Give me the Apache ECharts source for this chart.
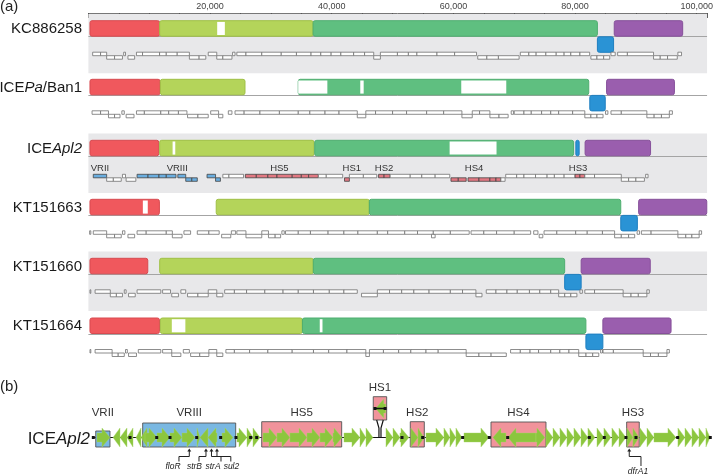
<!DOCTYPE html>
<html><head><meta charset="utf-8">
<script src="https://cdn.jsdelivr.net/npm/echarts@6/dist/echarts.min.js"></script>
<style>html,body{margin:0;padding:0;background:#fff}#c{width:716px;height:476px}</style>
</head><body><div id="c"></div>
<script>
// ================= DATA : panel (a) =================
const trackNames = ['KC886258', 'ICEPa/Ban1', 'ICEApl2', 'KT151663', 'KT151660', 'KT151664'];
const xMaxKb = 101.7;                 // axis extent (kb)
const tickStepKb = 5;                 // minor ticks
const labelStepKb = 20;               // labelled ticks: 20,000 ... 100,000

// LCB blocks: [start kb, end kb, colour (0 red,1 lime,2 green,3 blue,4 purple), inverted]
const blocksKC886258 = [[0.26,11.72,0,0],[11.72,36.94,1,0],[36.94,83.67,2,0],[83.67,86.33,3,1],[86.44,97.69,4,0]];
const blocksICEPaBan1 = [[0.26,11.79,0,0],[11.83,25.74,1,0],[34.49,82.25,2,0],[82.42,84.96,3,1],[85.18,96.33,4,0]];
const blocksICEApl2 = [[0.26,11.56,0,0],[11.72,37.10,1,0],[37.21,79.76,2,0],[80.13,80.67,3,0],[81.65,92.41,4,0]];
const blocksKT151663 = [[0.26,11.67,0,0],[21.01,46.18,1,0],[46.18,87.51,2,0],[87.51,90.24,3,1],[90.45,101.65,4,0]];
const blocksKT151660 = [[0.26,9.76,0,0],[11.72,36.97,1,0],[36.97,78.29,2,0],[78.29,81.00,3,1],[81.00,92.36,4,0]];
const blocksKT151664 = [[0.26,11.68,0,0],[11.83,35.18,1,0],[35.18,81.78,2,0],[81.78,84.57,3,1],[84.57,95.78,4,0]];

// unaligned (white) stretches inside blocks: [start kb, end kb]
const gapsKC886258 = [[21.17,22.43]];
const gapsICEPaBan1 = [[34.49,39.28],[44.69,45.25],[61.29,68.69]];
const gapsICEApl2 = [[13.84,14.28],[59.38,67.09]];
const gapsKT151663 = [[8.95,9.76]];
const gapsKT151660 = [];
const gapsKT151664 = [[13.71,15.94],[38.03,38.48]];

// genes: [start kb, end kb, strand]
const genesKC886258 = [[0.7,2.0,1],[2.0,3.0,1],[3.0,4.3,-1],[4.3,5.6,-1],[5.8,6.1,1],[6.5,7.6,-1],[7.9,8.9,1],[8.9,11.7,1],[11.7,12.8,1],[12.8,14.6,1],[14.6,16.6,1],[16.6,18.2,-1],[18.2,19.3,-1],[19.7,21.1,1],[21.1,22.1,-1],[22.1,23.6,-1],[23.7,24.1,1],[24.4,25.9,1],[25.9,28.5,1],[28.5,31.7,1],[31.7,34.2,1],[34.2,36.6,1],[36.6,38.2,1],[38.2,39.9,1],[39.9,41.5,1],[41.5,43.6,1],[43.6,45.4,1],[45.4,46.9,1],[46.9,48.0,-1],[48.0,50.8,1],[50.8,52.6,1],[52.6,54.0,1],[54.0,57.3,1],[57.3,60.2,1],[60.2,63.8,1],[64.0,65.5,-1],[65.5,67.4,-1],[67.4,70.8,-1],[71.0,72.4,1],[72.4,73.6,1],[73.6,75.2,1],[75.2,76.9,1],[76.9,78.2,1],[78.2,79.3,1],[79.3,80.8,1],[80.8,82.4,1],[82.6,83.6,-1],[83.6,84.7,-1],[84.7,85.7,-1],[85.9,86.6,1],[87.0,88.6,1],[88.6,92.9,1],[92.9,94.0,-1],[94.0,95.2,-1],[95.2,96.8,-1],[96.9,97.5,1]];
const genesICEPaBan1 = [[0.6,2.0,1],[2.0,3.3,1],[3.3,4.3,-1],[4.3,5.2,-1],[5.5,5.9,1],[6.2,7.5,-1],[7.9,9.2,1],[9.2,11.9,1],[11.9,13.2,1],[13.2,14.8,1],[14.8,16.2,1],[16.3,18.0,-1],[18.0,19.7,-1],[20.1,21.4,1],[21.4,22.1,-1],[23.0,23.6,1],[24.1,25.6,1],[25.6,28.2,1],[28.2,31.4,1],[31.4,34.5,1],[34.5,36.4,1],[36.4,38.9,1],[38.9,41.2,1],[41.2,44.2,1],[44.2,45.6,-1],[45.6,47.2,1],[47.2,50.0,1],[50.0,52.3,1],[52.3,55.6,1],[55.6,58.4,1],[58.4,61.4,1],[61.4,63.1,-1],[63.1,64.3,1],[64.3,66.0,1],[66.0,67.5,-1],[67.5,69.0,-1],[69.5,69.9,1],[70.0,71.6,1],[71.6,72.8,1],[72.8,74.5,1],[74.5,76.0,1],[76.0,77.3,1],[77.3,79.6,1],[79.6,81.6,1],[81.6,82.6,-1],[82.6,83.6,-1],[83.6,84.6,-1],[85.0,85.4,1],[85.9,87.6,1],[87.6,91.8,1],[91.8,93.0,-1],[93.0,94.2,-1],[94.2,95.5,-1],[95.5,96.0,1]];
// ICEApl2 genes carry a region colour: 0 none, 1 VR (blue), 2 HS (red)
const genesICEApl2 = [[0.8,3.0,1,1],[3.0,4.1,-1,0],[4.1,5.4,-1,0],[5.6,6.1,1,0],[6.2,7.8,-1,0],[8.0,9.8,1,1],[9.8,11.6,1,1],[11.6,12.8,1,1],[12.8,14.4,1,1],[14.7,16.0,1,1],[16.0,17.0,-1,1],[17.0,17.9,-1,1],[19.5,20.9,1,1],[20.9,21.7,-1,1],[22.1,23.1,1,0],[23.1,25.5,1,0],[25.8,27.6,1,2],[27.6,29.5,1,2],[29.5,31.0,1,2],[31.0,33.5,1,2],[33.5,35.0,1,2],[35.0,36.2,1,2],[36.2,37.8,1,2],[37.8,39.1,1,0],[39.1,41.8,1,0],[42.1,42.9,-1,2],[42.9,45.2,1,0],[45.2,47.4,1,0],[47.7,48.6,1,2],[48.6,49.6,1,2],[49.6,52.9,1,0],[52.9,54.8,1,0],[54.8,57.0,1,0],[57.0,59.4,1,0],[59.6,60.8,-1,2],[60.8,62.1,-1,2],[62.4,64.2,-1,2],[64.2,66.0,-1,2],[66.0,67.0,-1,2],[67.0,67.8,-1,2],[67.8,68.5,-1,0],[68.6,70.4,1,0],[70.4,71.6,1,0],[71.6,73.5,1,0],[73.5,75.4,1,0],[75.4,76.6,1,0],[76.6,78.2,1,0],[78.2,80.0,1,0],[80.0,80.8,1,2],[80.8,81.6,1,2],[81.6,83.2,1,0],[83.2,87.6,1,0],[87.6,88.8,-1,0],[88.8,90.0,-1,0],[90.0,91.4,-1,0],[91.6,92.0,1,0]];
const genesKT151663 = [[0.2,0.4,1],[0.8,3.0,1],[3.0,4.3,-1],[4.3,5.4,-1],[5.6,6.0,1],[6.5,7.6,-1],[8.0,9.5,1],[9.5,12.8,1],[12.8,13.8,1],[13.8,15.4,-1],[15.7,16.8,1],[17.9,19.8,1],[19.8,21.5,1],[21.9,23.4,-1],[23.5,24.2,1],[24.4,25.9,1],[25.9,28.5,-1],[28.5,29.6,1],[29.6,30.7,-1],[30.7,31.6,-1],[31.8,32.2,1],[32.4,34.5,1],[34.5,36.5,1],[36.5,39.4,1],[39.4,42.0,1],[42.0,44.3,1],[44.3,47.5,1],[47.5,49.2,1],[49.2,52.0,1],[52.0,54.1,1],[54.1,56.7,1],[56.4,57.0,-1],[56.7,59.5,1],[59.5,62.6,1],[62.9,65.0,1],[65.0,67.1,1],[67.1,70.0,1],[70.0,72.7,1],[73.2,73.9,1],[74.1,74.7,-1],[74.9,77.0,1],[77.0,80.1,1],[80.1,82.0,1],[82.0,84.5,1],[84.5,86.5,1],[86.5,87.6,-1],[87.6,88.8,-1],[88.8,89.8,-1],[90.2,90.6,1],[90.9,92.5,1],[92.5,96.9,1],[96.9,98.2,-1],[98.2,99.2,-1],[99.2,100.4,-1],[100.4,100.8,1]];
const genesKT151660 = [[0.26,0.4,1],[1.1,3.6,1],[3.6,4.6,-1],[4.6,5.6,-1],[5.9,6.2,1],[6.6,7.7,-1],[8.0,11.9,1],[12.2,13.5,1],[13.7,14.8,-1],[15.2,16.0,1],[16.3,18.0,-1],[18.0,19.7,-1],[19.7,21.1,1],[21.1,22.1,-1],[22.4,24.0,1],[24.0,26.0,1],[26.0,29.0,1],[29.0,32.0,1],[32.0,34.5,1],[34.5,37.0,1],[37.0,39.6,1],[39.6,42.0,1],[42.0,44.2,1],[44.9,47.5,-1],[47.5,49.5,1],[49.5,51.5,1],[51.5,53.5,1],[53.5,56.0,1],[56.0,59.5,1],[59.5,61.5,1],[61.5,63.7,1],[63.7,64.7,-1],[65.4,67.0,1],[67.0,68.8,1],[68.8,70.5,1],[70.5,72.5,1],[72.5,74.2,1],[74.2,76.0,1],[76.0,77.3,1],[77.3,78.3,-1],[78.3,79.3,-1],[79.3,80.3,-1],[80.8,81.2,1],[81.6,83.2,1],[83.2,87.9,1],[87.9,89.2,-1],[89.2,90.4,-1],[90.4,91.8,-1],[91.8,92.2,1]];
const genesKT151664 = [[0.26,0.4,1],[1.1,3.9,1],[3.9,4.9,-1],[4.9,5.9,-1],[6.1,6.4,1],[6.6,7.9,-1],[8.2,11.9,1],[12.2,13.7,1],[13.7,15.2,-1],[15.6,16.6,1],[16.8,18.3,-1],[18.3,19.8,-1],[19.8,21.1,1],[21.1,22.1,-1],[22.6,24.0,1],[24.0,26.5,1],[26.5,29.5,1],[29.5,33.5,1],[33.5,37.0,1],[37.0,39.5,1],[39.5,42.5,1],[42.5,45.6,1],[45.6,46.2,-1],[46.2,48.5,1],[48.5,51.0,1],[51.0,53.0,1],[53.0,55.5,1],[55.5,57.5,1],[57.5,62.1,1],[62.1,64.2,-1],[64.2,66.2,-1],[66.2,68.7,-1],[69.4,71.0,1],[71.0,72.6,1],[72.6,74.0,1],[74.0,76.0,1],[76.0,77.5,1],[77.5,79.0,1],[79.0,80.6,1],[80.6,81.8,-1],[81.8,82.9,-1],[82.9,83.9,-1],[84.2,84.5,1],[84.6,86.3,1],[86.3,91.2,1],[91.2,92.4,-1],[92.4,93.7,-1],[93.7,95.1,-1],[95.1,95.5,1]];

// region labels on the ICEApl2 track: [name, centre kb]
const regionLabelsICEApl2 = [['VRII',1.9],['VRIII',14.6],['HS5',31.4],['HS1',43.3],['HS2',48.6],['HS4',63.4],['HS3',80.5]];

// ================= DATA : panel (b) (relative map units 0-100) =================
const arrowsB = [[0.65,2.75,1],[3.24,4.37,-1],[4.37,5.50,-1],[5.50,6.47,-1],[6.96,7.77,-1],[7.77,8.74,-1],
 [8.41,10.36,1],[10.36,12.46,1],[12.46,14.40,1],[14.40,16.50,1],[16.83,17.31,1],[17.31,18.61,-1],[18.61,20.06,-1],[20.87,22.65,1],
 [23.30,24.92,1],[24.92,25.89,1],[25.89,27.02,1],
 [27.51,29.77,1],[29.77,31.87,1],[31.87,34.63,1],[34.63,36.73,1],[36.73,38.83,1],[38.83,40.29,1],[40.61,43.20,1],
 [43.20,44.17,1],[44.17,45.30,1],[47.41,48.54,1],[48.54,49.67,1],[49.67,51.13,1],
 [51.45,52.59,1],[52.59,53.56,1],[53.88,56.79,1],[56.79,57.76,1],[57.76,58.73,1],[58.73,59.70,1],[60.03,64.07,1],
 [64.72,66.82,-1],[67.15,71.68,-1],[71.68,73.13,1],
 [73.30,74.43,1],[74.43,75.56,1],[75.56,76.69,1],[76.69,77.82,1],[77.82,78.96,1],[78.96,80.09,1],[80.09,81.22,1],
 [81.55,82.68,1],[82.68,83.81,1],[83.97,85.11,1],[85.11,86.24,1],[86.40,87.37,1],[87.37,88.34,1],
 [88.50,89.64,1],[89.64,90.77,1],[90.77,94.33,1],[94.65,95.79,1],[95.79,96.92,1],[96.92,98.05,1],[98.05,99.18,1],[99.18,99.84,1]];
const hs1ArrowB = [[45.75,47.35,-1]];
const regionBoxesB = [['VRII',0.44,2.75,1],['VRIII',8.04,23.09,1],['HS5',27.30,40.24,2],['HS1',45.35,47.52,2],['HS2',51.34,53.61,2],['HS4',64.40,73.30,2],['HS3',86.35,88.39,2]];
const dotsB = [0.05,5.99,10.31,12.46,16.78,20.66,23.14,25.52,26.49,50.0,53.35,59.82,64.12,67.10,80.30,82.73,86.24,87.86,94.61,99.88];
const hs1LinkB = [[45.90,46.27],[46.97,46.60]];
// resistance genes: [name, gene position, elbow position, label position]
const resGenesB = [['floR',15.58,13.91,12.94],['strB',18.28,17.15,16.42],['strA',19.17,20.71,19.42],['sul2',20.06,22.30,22.40],['dfrA1',86.77,88.67,88.18]];

// ================= STYLE / LAYOUT =================
const FONT = '"Liberation Sans", Arial, Helvetica, sans-serif';
const BLOCK_TOP = [20.7, 79.3, 140.3, 199.3, 258.3, 318];
const BLOCK_H = 15.5;
const GENE_OFF = [19.5, 19.5, 22, 19.5, 19.5, 19.5];
const BAND_TRACKS = [0, 2, 4];
const BLOCK_FILL = ['#f0585d', '#b4d45a', '#5fbf80', '#2a93d5', '#9a5eae'];
const BLOCK_STROKE = ['#d84a50', '#9fc045', '#4fae70', '#1f7fc0', '#86509a'];
const GENE_FILL = ['#ffffff', '#6aaee0', '#e27882'];
const BOX_FILL = ['', '#7ab8e2', '#f1939b'];
const ARROW = '#8cc63e';
const LINE_B = 437.5;
const BOX_TOP_B = {VRII: 431, VRIII: 423, HS5: 421.7, HS1: 396.7, HS2: 421.7, HS4: 422, HS3: 422};
const BOX_BOT_B = {HS1: 420};
const BOX_LABEL_Y = {HS1: 388};

// ================= build series data =================
const allBlocks = [blocksKC886258, blocksICEPaBan1, blocksICEApl2, blocksKT151663, blocksKT151660, blocksKT151664];
const allGaps = [gapsKC886258, gapsICEPaBan1, gapsICEApl2, gapsKT151663, gapsKT151660, gapsKT151664];
const allGenes = [genesKC886258, genesICEPaBan1, genesICEApl2, genesKT151663, genesKT151660, genesKT151664];
const blockData = [], gapData = [], geneData = [];
allBlocks.forEach((arr, t) => arr.forEach(b => blockData.push([b[0], b[1], t, b[2], b[3]])));
allGaps.forEach((arr, t) => arr.forEach(g => gapData.push([g[0], g[1], t])));
allGenes.forEach((arr, t) => arr.forEach(g => geneData.push([g[0], g[1], t, g[2], g[3] || 0])));

function fmt(v) { return String(Math.round(v)).replace(/\B(?=(\d{3})+(?!\d))/g, ','); }

function rectFrom(api, x0, x1, y0, y1) {
  const a = api.coord([x0, y0]), b = api.coord([x1, y1]);
  return {x: a[0], y: a[1], width: b[0] - a[0], height: b[1] - a[1]};
}

const common = {type: 'custom', silent: true, animation: false, clip: false};

const series = [
  // grey bands
  Object.assign({}, common, {xAxisIndex: 0, yAxisIndex: 0, data: BAND_TRACKS.map(t => [0, xMaxKb, t]),
    renderItem(p, api) {
      const t = api.value(2), top = BLOCK_TOP[t] - 6.7;
      return {type: 'rect', shape: rectFrom(api, api.value(0), api.value(1), top, top + 59.3), style: {fill: '#e8e8ea'}};
    }}),
  // centre lines
  Object.assign({}, common, {xAxisIndex: 0, yAxisIndex: 0, data: trackNames.map((n, t) => [0, xMaxKb, t]),
    renderItem(p, api) {
      const y = BLOCK_TOP[api.value(2)] + BLOCK_H;
      const a = api.coord([api.value(0), y]), b = api.coord([api.value(1), y]);
      return {type: 'line', shape: {x1: a[0], y1: Math.round(a[1]) + 0.5, x2: b[0], y2: Math.round(a[1]) + 0.5}, style: {stroke: '#a4a4a4', lineWidth: 1}};
    }}),
  // blocks
  Object.assign({}, common, {xAxisIndex: 0, yAxisIndex: 0, data: blockData,
    renderItem(p, api) {
      const t = api.value(2), c = api.value(3), inv = api.value(4);
      const top = BLOCK_TOP[t] + (inv ? BLOCK_H + 0.6 : 0);
      const r = rectFrom(api, api.value(0), api.value(1), top, top + BLOCK_H);
      r.r = 2;
      return {type: 'rect', shape: r, style: {fill: BLOCK_FILL[c], stroke: BLOCK_STROKE[c], lineWidth: 1}};
    }}),
  // white unaligned stretches
  Object.assign({}, common, {xAxisIndex: 0, yAxisIndex: 0, data: gapData,
    renderItem(p, api) {
      const t = api.value(2);
      const r = rectFrom(api, api.value(0), api.value(1), BLOCK_TOP[t] + 1.2, BLOCK_TOP[t] + BLOCK_H - 1.2);
      return {type: 'rect', shape: r, style: {fill: '#ffffff'}};
    }}),
  // genes
  Object.assign({}, common, {xAxisIndex: 0, yAxisIndex: 0, data: geneData,
    renderItem(p, api) {
      const t = api.value(2), s = api.value(3), col = api.value(4);
      const c = BLOCK_TOP[t] + BLOCK_H + GENE_OFF[t];
      const y0 = s > 0 ? c - 3.5 : c, y1 = s > 0 ? c : c + 3.5;
      const r = rectFrom(api, api.value(0), api.value(1), y0, y1);
      return {type: 'rect', shape: r, style: {fill: GENE_FILL[col], stroke: col ? '#444' : '#707070', lineWidth: 0.8}};
    }}),
  // region labels on ICEApl2 track
  Object.assign({}, common, {xAxisIndex: 0, yAxisIndex: 0, data: regionLabelsICEApl2.map(r => [r[1], 168]),
    renderItem(p, api) {
      const a = api.coord([api.value(0), api.value(1)]);
      return {type: 'text', x: a[0], y: a[1], style: {text: regionLabelsICEApl2[p.dataIndex][0], fontSize: 9.5, fontFamily: FONT, fill: '#333', align: 'center', verticalAlign: 'middle'}};
    }}),

  // ---------- panel (b) ----------
  // backbone line
  Object.assign({}, common, {xAxisIndex: 1, yAxisIndex: 1, data: [[0, 100]],
    renderItem(p, api) {
      const a = api.coord([api.value(0), LINE_B]), b = api.coord([api.value(1), LINE_B]);
      return {type: 'line', shape: {x1: a[0], y1: a[1], x2: b[0], y2: b[1]}, style: {stroke: '#111', lineWidth: 1}};
    }}),
  // region boxes + labels
  Object.assign({}, common, {xAxisIndex: 1, yAxisIndex: 1, data: regionBoxesB.map(b => [b[1], b[2], b[3]]),
    renderItem(p, api) {
      const name = regionBoxesB[p.dataIndex][0];
      const top = BOX_TOP_B[name], bot = BOX_BOT_B[name] || 447;
      const r = rectFrom(api, api.value(0), api.value(1), top, bot);
      const cx = r.x + r.width / 2;
      return {type: 'group', children: [
        {type: 'rect', shape: r, style: {fill: BOX_FILL[api.value(2)], stroke: '#555', lineWidth: 0.9}},
        {type: 'text', x: cx, y: BOX_LABEL_Y[name] || 413, style: {text: name, fontSize: 11.5, fontFamily: FONT, fill: '#333', align: 'center', verticalAlign: 'middle'}}
      ]};
    }}),
  // HS1 link
  Object.assign({}, common, {xAxisIndex: 1, yAxisIndex: 1, data: hs1LinkB,
    renderItem(p, api) {
      const a = api.coord([api.value(0), 420]), b = api.coord([api.value(1), 428]), c = api.coord([api.value(1), LINE_B]);
      return {type: 'polyline', shape: {points: [a, b, c]}, style: {stroke: '#111', lineWidth: 1.2, fill: null}};
    }}),
  // gene arrows on backbone
  Object.assign({}, common, {xAxisIndex: 1, yAxisIndex: 1, data: arrowsB.map(a => [a[0], a[1], a[2], LINE_B]).concat(hs1ArrowB.map(a => [a[0], a[1], a[2], 408.5])),
    renderItem(p, api) {
      const a = api.coord([api.value(0), api.value(3)]), b = api.coord([api.value(1), api.value(3)]);
      const dir = api.value(2), y = a[1];
      const len = b[0] - a[0], hl = Math.min(len, 8), sh = 4.5, hh = 9.5;
      let pts;
      if (dir > 0) {
        const x0 = a[0], x1 = b[0], xh = x1 - hl;
        pts = [[x0, y - sh], [xh, y - sh], [xh, y - hh], [x1, y], [xh, y + hh], [xh, y + sh], [x0, y + sh]];
      } else {
        const x0 = a[0], x1 = b[0], xh = x0 + hl;
        pts = [[x1, y - sh], [xh, y - sh], [xh, y - hh], [x0, y], [xh, y + hh], [xh, y + sh], [x1, y + sh]];
      }
      return {type: 'polygon', shape: {points: pts}, style: {fill: ARROW, stroke: '#a7d66a', lineWidth: 0.4}};
    }}),
  // HS1 inner black bar
  Object.assign({}, common, {xAxisIndex: 1, yAxisIndex: 1, data: [[45.55, 47.35, 408.5]],
    renderItem(p, api) {
      const a = api.coord([api.value(0), api.value(2)]), b = api.coord([api.value(1), api.value(2)]);
      return {type: 'group', children: [
        {type: 'line', shape: {x1: a[0], y1: a[1], x2: b[0], y2: b[1]}, style: {stroke: '#111', lineWidth: 1.6}},
        {type: 'rect', shape: {x: a[0] - 1, y: a[1] - 1.5, width: 3, height: 3}, style: {fill: '#111'}},
        {type: 'rect', shape: {x: b[0] - 2, y: b[1] - 1.5, width: 3, height: 3}, style: {fill: '#111'}}
      ]};
    }}),
  // black intergenic dots
  Object.assign({}, common, {xAxisIndex: 1, yAxisIndex: 1, data: dotsB.map(d => [d, LINE_B]),
    renderItem(p, api) {
      const a = api.coord([api.value(0), api.value(1)]);
      return {type: 'rect', shape: {x: a[0] - 1.5, y: a[1] - 1.5, width: 3, height: 3}, style: {fill: '#111'}};
    }}),
  // resistance gene pointers
  Object.assign({}, common, {xAxisIndex: 1, yAxisIndex: 1, data: resGenesB.map(g => [g[1], g[2], g[3]]),
    renderItem(p, api) {
      const name = resGenesB[p.dataIndex][0];
      const low = name === 'dfrA1';
      const ly = low ? 471.5 : 467;
      const tgt = api.coord([api.value(0), 448.5]), elb = api.coord([api.value(1), 456.5]), lab = api.coord([api.value(2), ly]);
      const yStart = ly - 5.5;
      return {type: 'group', children: [
        {type: 'polyline', shape: {points: [[elb[0], yStart], [elb[0], elb[1]], [tgt[0], elb[1]], [tgt[0], tgt[1] + 2.5]]}, style: {stroke: '#222', lineWidth: 1, fill: null}},
        {type: 'polygon', shape: {points: [[tgt[0] - 2, tgt[1] + 3], [tgt[0] + 2, tgt[1] + 3], [tgt[0], tgt[1]]]}, style: {fill: '#222'}},
        {type: 'text', x: lab[0], y: lab[1], style: {text: name, fontSize: 8.5, fontStyle: 'italic', fontFamily: FONT, fill: '#222', align: 'center', verticalAlign: 'middle'}}
      ]};
    }})
];

const rich = {n: {fontSize: 15, fontFamily: FONT, fill: '#1a1a1a'}, i: {fontSize: 15, fontFamily: FONT, fontStyle: 'italic', fill: '#1a1a1a'},
              bn: {fontSize: 17, fontFamily: FONT, fill: '#1a1a1a'}, bi: {fontSize: 17, fontFamily: FONT, fontStyle: 'italic', fill: '#1a1a1a'}};
const nameRich = {'ICEPa/Ban1': '{n|ICE}{i|Pa}{n|/Ban1}', 'ICEApl2': '{n|ICE}{i|Apl2}'};
const graphics = trackNames.map((n, t) => ({type: 'text', x: 82, y: BLOCK_TOP[t] + 8.3, silent: true,
  style: {text: nameRich[n] || '{n|' + n + '}', rich, align: 'right', verticalAlign: 'middle'}}));
graphics.push({type: 'text', x: 0, y: 7, silent: true, style: {text: '(a)', fontSize: 15, fontFamily: FONT, fill: '#222', verticalAlign: 'middle'}});
graphics.push({type: 'text', x: 0, y: 387, silent: true, style: {text: '(b)', fontSize: 15, fontFamily: FONT, fill: '#222', verticalAlign: 'middle'}});
graphics.push({type: 'text', x: 90, y: 439, silent: true, style: {text: '{bn|ICE}{bi|Apl2}', rich, align: 'right', verticalAlign: 'middle'}});

const chart = echarts.init(document.getElementById('c'), null, {renderer: 'canvas'});
chart.setOption({
  animation: false,
  grid: [{left: 88.4, right: 3.6, top: 13, bottom: 0}, {left: 93, right: 5, top: 13, bottom: 0}],
  xAxis: [
    {type: 'value', gridIndex: 0, position: 'top', min: 0, max: xMaxKb, interval: tickStepKb,
     axisLine: {show: true, lineStyle: {color: '#777', width: 1}},
     axisTick: {show: true, inside: true, length: 5, lineStyle: {color: '#555'}},
     axisLabel: {fontSize: 9, fontFamily: FONT, color: '#444', margin: 2,
       formatter: v => (v > 0 && Math.abs(v % labelStepKb) < 1e-6) ? fmt(v * 1000) : ''},
     splitLine: {show: false}},
    {type: 'value', gridIndex: 1, min: 0, max: 100, show: false}
  ],
  yAxis: [
    {type: 'value', gridIndex: 0, min: 13, max: 476, inverse: true, show: false},
    {type: 'value', gridIndex: 1, min: 13, max: 476, inverse: true, show: false}
  ],
  graphic: graphics,
  series
});
</script></body></html>
